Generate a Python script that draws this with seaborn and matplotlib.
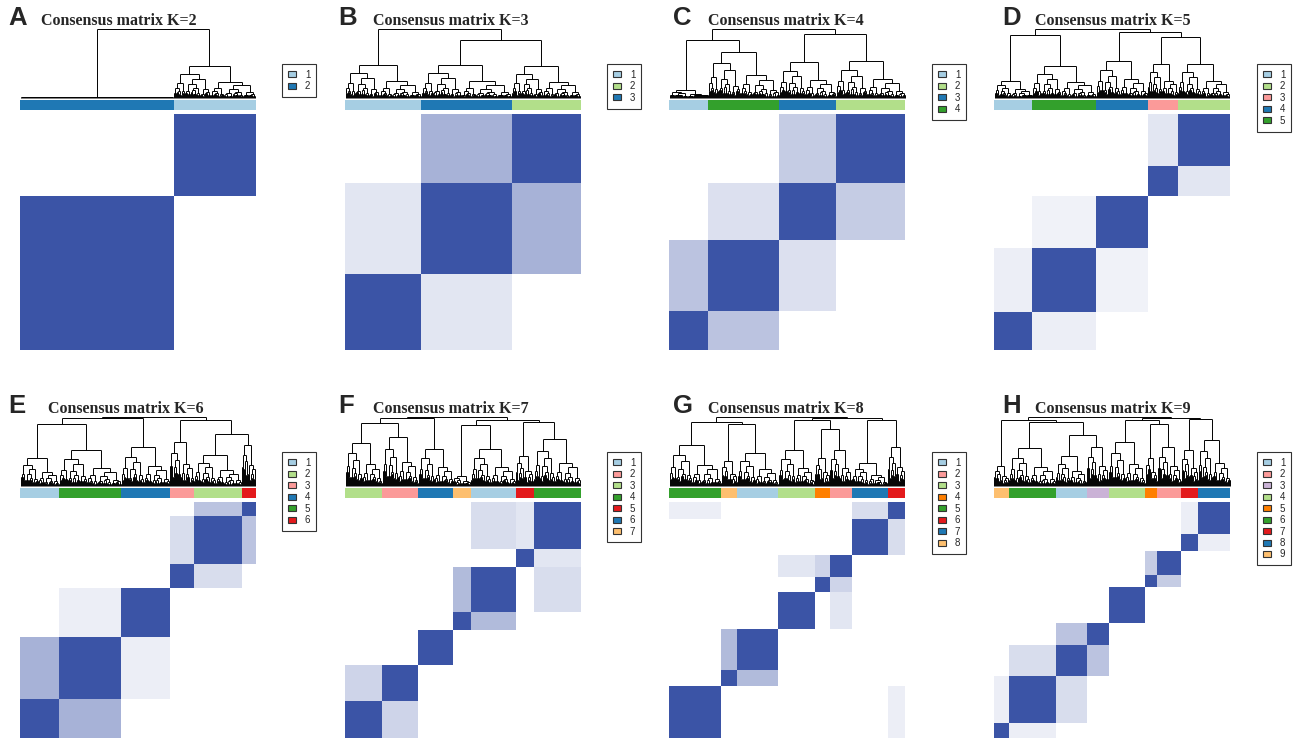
import numpy as np
import matplotlib
matplotlib.use("Agg")
import matplotlib.pyplot as plt
import seaborn as sns
from matplotlib.colors import LinearSegmentedColormap
from matplotlib.collections import LineCollection
from matplotlib.patches import Patch

sns.set_style("white")

# ConsensusClusterPlus colours
LB, LG, DB, GR = "#A6CEE3", "#B2DF8A", "#1F78B4", "#33A02C"
PK, RD, LO, OR, PU = "#FB9A99", "#E31A1C", "#FDBF6F", "#FF7F00", "#CAB2D6"

k_values = [2, 3, 4, 5, 6, 7, 8, 9]
panel_letters = ["A", "B", "C", "D", "E", "F", "G", "H"]

# legend colours for cluster 1..k
legend_colors = {
    2: [LB, DB],
    3: [LB, LG, DB],
    4: [LB, LG, DB, GR],
    5: [LB, LG, PK, DB, GR],
    6: [LB, LG, PK, DB, GR, RD],
    7: [LB, PK, LG, GR, RD, DB, LO],
    8: [LB, PK, LG, OR, GR, RD, DB, LO],
    9: [LB, PK, PU, LG, OR, GR, RD, DB, LO],
}

# cluster ids as they appear left to right under the dendrogram
cluster_order = {
    2: [2, 1],
    3: [1, 3, 2],
    4: [1, 4, 3, 2],
    5: [1, 5, 4, 3, 2],
    6: [1, 5, 4, 3, 2, 6],
    7: [3, 2, 6, 7, 1, 5, 4],
    8: [5, 8, 1, 3, 4, 2, 7, 6],
    9: [9, 6, 1, 3, 4, 5, 2, 7, 8],
}

# number of samples in each cluster (same order)
cluster_sizes = {
    2: [153, 82],
    3: [76, 90, 69],
    4: [39, 71, 57, 69],
    5: [38, 64, 51, 30, 52],
    6: [39, 62, 48, 24, 48, 14],
    7: [37, 36, 35, 17, 45, 18, 47],
    8: [52, 16, 41, 36, 15, 22, 36, 17],
    9: [15, 47, 31, 22, 37, 12, 24, 17, 32],
}

# height where each cluster's own sub-tree joins the upper tree
cluster_root_h = {
    2: [0.02, 0.47],
    3: [0.48, 0.48, 0.47],
    4: [0.11, 0.67, 0.52, 0.54],
    5: [0.25, 0.47, 0.54, 0.50, 0.50],
    6: [0.40, 0.52, 0.57, 0.64, 0.45, 0.60],
    7: [0.63, 0.71, 0.54, 0.15, 0.54, 0.44, 0.68],
    8: [0.60, 0.36, 0.48, 0.52, 0.40, 0.52, 0.33, 0.56],
    9: [0.29, 0.55, 0.43, 0.57, 0.64, 0.40, 0.57, 0.52, 0.67],
}

# upper tree: [merge height, left, right], leaves are cluster positions
cluster_tree = {
    2: [1.0, 0, 1],
    3: [1.0, 0, [0.84, 1, 2]],
    4: [1.0, [0.84, 0, 1], [0.93, 2, 3]],
    5: [1.0, [0.91, 0, 1], [0.96, 2, [0.88, 3, 4]]],
    6: [1.0, [0.99, [0.905, 0, 1], 2], [0.96, 3, [0.76, 4, 5]]],
    7: [1.0, [0.99, [0.91, 0, 1], 2], [0.95, [0.88, 3, 4], [0.93, 5, 6]]],
    8: [1.0, [0.93, 0, [0.90, 1, 2]], [0.98, [0.95, 3, [0.83, 4, 5]], [0.96, 6, 7]]],
    9: [1.0, [0.96, 0, [0.93, 1, [0.74, 2, 3]]], [0.985, [0.95, 4, [0.90, 5, 6]], [0.976, 7, 8]]],
}

# partial consensus between cluster positions (i, j, value)
partial_blocks = {
    2: [],
    3: [(1, 2, 0.45), (0, 1, 0.15)],
    4: [(0, 1, 0.35), (2, 3, 0.30), (1, 2, 0.18)],
    5: [(0, 1, 0.10), (3, 4, 0.15), (1, 2, 0.08)],
    6: [(0, 1, 0.45), (4, 5, 0.35), (3, 4, 0.20), (1, 2, 0.10)],
    7: [(0, 1, 0.25), (3, 4, 0.40), (4, 6, 0.20), (5, 6, 0.15)],
    8: [(1, 2, 0.40), (3, 5, 0.15), (4, 5, 0.25), (6, 7, 0.20), (0, 7, 0.10)],
    9: [(2, 3, 0.35), (1, 2, 0.20), (5, 6, 0.30), (0, 1, 0.10), (7, 8, 0.10)],
}

# layout in pixels
W, H = 1293, 742
col_x = [20, 345, 669, 994]
panel_w = 236
row_off = [0, 388]
title_x = [[119, 451, 786, 1113], [126, 451, 786, 1113]]
letter_x = [8, 338, 673, 1002]
legend_x = [282, 607, 932, 1257]

# look of the sub-trees inside each cluster
SPLIT = [0.45, 0.3, 0.6, 0.4, 0.55, 0.35, 0.5]
SHRINK = [(0.75, 0.5), (0.6, 0.8), (0.7, 0.45), (0.5, 0.7), (0.8, 0.55)]

blue = "#3B54A6"
cmap = LinearSegmentedColormap.from_list("cons", ["white", blue])


def grow(lo, hi, h, depth, segs):
    n = hi - lo
    if n <= 3 or h < 0.05 or depth > 5:
        xs = np.arange(lo, hi) + 0.5
        segs.append([(xs[0], h), (xs[-1], h)])
        for x in xs:
            segs.append([(x, 0), (x, h)])
        return xs.mean()
    r = SPLIT[depth % len(SPLIT)]
    mid = lo + max(1, int(round(n * r)))
    a, b = SHRINK[depth % len(SHRINK)]
    xl = grow(lo, mid, h * a, depth + 1, segs)
    xr = grow(mid, hi, h * b, depth + 1, segs)
    segs.append([(xl, h), (xr, h)])
    segs.append([(xl, h * a), (xl, h)])
    segs.append([(xr, h * b), (xr, h)])
    return (xl + xr) / 2


def join(node, leaves, segs):
    if isinstance(node, int):
        return leaves[node]
    h, left, right = node
    xl, hl = join(left, leaves, segs)
    xr, hr = join(right, leaves, segs)
    segs.append([(xl, h), (xr, h)])
    segs.append([(xl, hl), (xl, h)])
    segs.append([(xr, hr), (xr, h)])
    return ((xl + xr) / 2, h)


def add_ax(x0, y0, w, h):
    return fig.add_axes([x0 / W, 1 - (y0 + h) / H, w / W, h / H])


fig = plt.figure(figsize=(W / 100, H / 100), dpi=100)

for idx, k in enumerate(k_values):
    row, col = divmod(idx, 4)
    off = row_off[row]
    x0 = col_x[col]
    sizes = np.array(cluster_sizes[k])
    starts = np.concatenate([[0], np.cumsum(sizes)[:-1]])
    n = sizes.sum()
    colors = [legend_colors[k][c - 1] for c in cluster_order[k]]

    # dendrogram
    ax_d = add_ax(x0, 29 + off, panel_w, 69)
    segs = []
    leaves = []
    for s, size, hr in zip(starts, sizes, cluster_root_h[k]):
        leaves.append((grow(s, s + size, hr, 0, segs), hr))
    join(cluster_tree[k], leaves, segs)
    ax_d.add_collection(LineCollection(segs, colors="black", linewidths=0.7,
                                       clip_on=False))
    ax_d.set_xlim(0, n)
    ax_d.set_ylim(0, 1)
    ax_d.axis("off")

    # cluster colour bar
    ax_c = add_ax(x0, 100 + off, panel_w, 10)
    ax_c.barh(0, sizes, left=starts, height=1, color=colors, linewidth=0)
    ax_c.set_xlim(0, n)
    ax_c.set_ylim(-0.5, 0.5)
    ax_c.axis("off")

    # consensus matrix
    m = np.zeros((n, n))
    for s, size in zip(starts, sizes):
        m[s:s + size, s:s + size] = 1
    for i, j, v in partial_blocks[k]:
        m[starts[i]:starts[i] + sizes[i], starts[j]:starts[j] + sizes[j]] = v
        m[starts[j]:starts[j] + sizes[j], starts[i]:starts[i] + sizes[i]] = v
    ax_m = add_ax(x0, 114 + off, panel_w, 236)
    sns.heatmap(m[::-1], ax=ax_m, cmap=cmap, vmin=0, vmax=1, cbar=False,
                xticklabels=False, yticklabels=False, rasterized=True)
    ax_m.axis("off")

    # titles
    fig.text(title_x[row][col] / W, 1 - (25 + off) / H, f"Consensus matrix K={k}",
             ha="center", va="baseline", fontsize=11.5, fontweight="bold",
             family="Liberation Serif")
    fig.text(letter_x[col] / W, 1 - (25 + off) / H, panel_letters[idx],
             ha="left", va="baseline", fontsize=18.5, fontweight="bold",
             family="Liberation Sans")

    # legend
    handles = [Patch(facecolor=c, edgecolor="#333333", linewidth=0.8)
               for c in legend_colors[k]]
    labels = [str(i + 1) for i in range(k)]
    leg = fig.legend(handles, labels, loc="upper left",
                     bbox_to_anchor=(legend_x[col] / W, 1 - (64 + off) / H),
                     borderaxespad=0, frameon=True, fancybox=False,
                     edgecolor="black", handlelength=0.85, handleheight=0.6,
                     handletextpad=0.9, labelspacing=0.15, borderpad=0.6,
                     prop={"family": "Liberation Sans", "size": 7})
    leg.get_frame().set_linewidth(0.8)

fig.savefig("out.png", dpi=100, facecolor="white")
